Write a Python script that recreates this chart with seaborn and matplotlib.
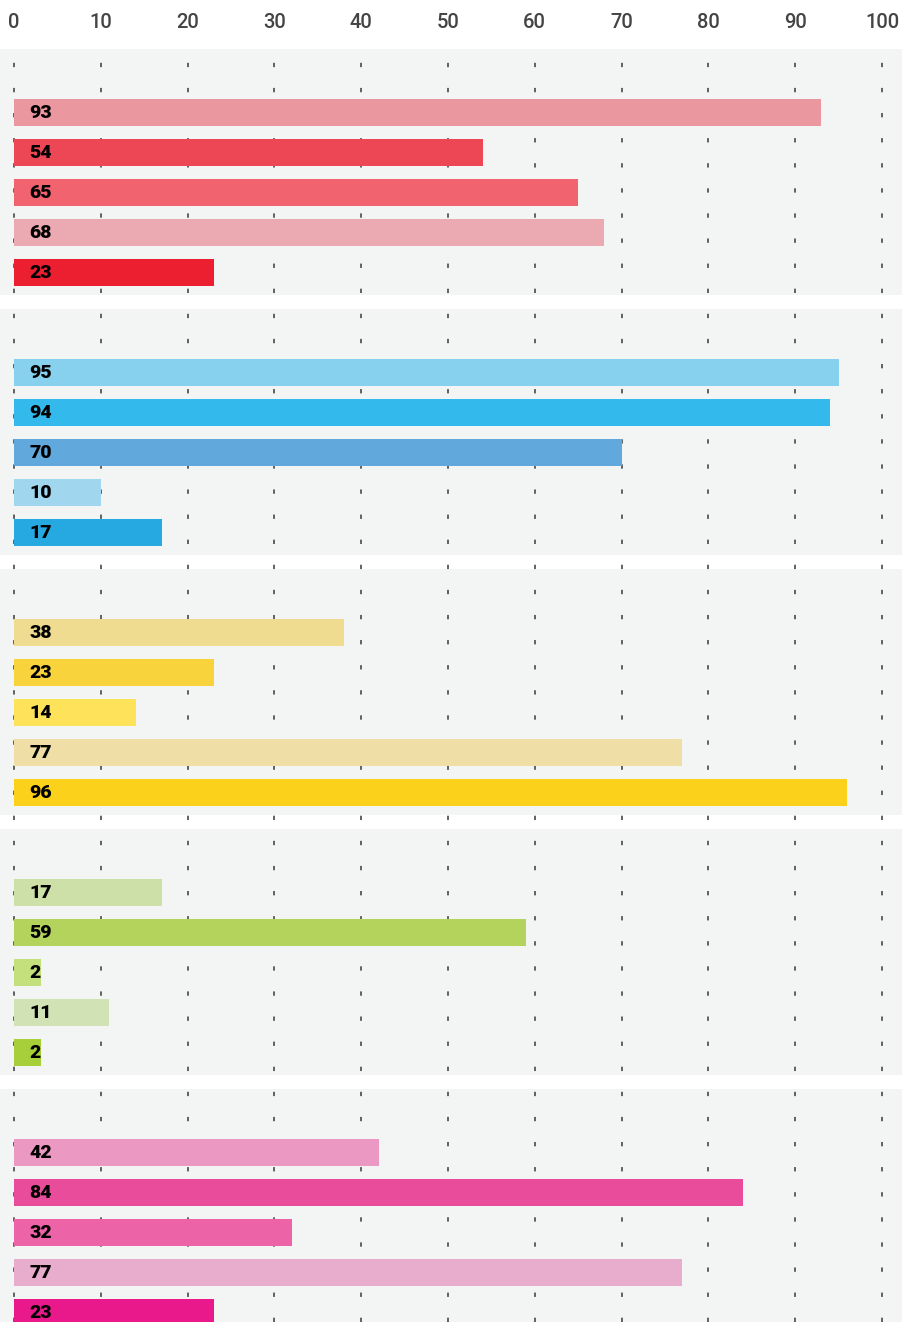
import numpy as np
import pandas as pd
import matplotlib
matplotlib.use("Agg")
import matplotlib.pyplot as plt
import seaborn as sns

# values, top to bottom, five groups of five
group_values = [
    [93, 54, 65, 68, 23],
    [95, 94, 70, 10, 17],
    [38, 23, 14, 77, 96],
    [17, 59, 2, 11, 2],
    [42, 84, 32, 77, 23],
]
group_colors = [
    ["#ea979f", "#ed4655", "#f26370", "#ebaab1", "#ec1f30"],
    ["#88d1ee", "#33b9ec", "#61a9dd", "#a0d6ee", "#26a9e1"],
    ["#efdc90", "#f9d33b", "#fde25a", "#efdfa6", "#fcd11b"],
    ["#cde0a7", "#b3d35c", "#c4e07c", "#d1e2b4", "#a6cf3a"],
    ["#eb98c2", "#e84c9b", "#ec64a7", "#e8accd", "#e9198c"],
]
x_ticks = [0, 10, 20, 30, 40, 50, 60, 70, 80, 90, 100]

GROUP_STEP = 6.5   # slots between first bars of neighbouring groups
MIN_BAR = 3.1      # tiny bars are drawn a bit wider so the label fits

rows = []
for g, vals in enumerate(group_values):
    for i, v in enumerate(vals):
        rows.append({"pos": g * GROUP_STEP + i, "value": v,
                     "shown": max(v, MIN_BAR),
                     "color": group_colors[g][i]})
df = pd.DataFrame(rows)

sns.set_theme(style="white")
plt.rcParams["font.family"] = ["Roboto", "DejaVu Sans"]

W, H = 902, 1322
fig = plt.figure(figsize=(W / 100, H / 100), dpi=100)
top_px = 49
ax = fig.add_axes([0, 0, 1, (H - top_px) / H])

# pixel mapping: x=0 at 14px, 8.68 px per unit; bar slot 40px, first centre at 112.5px
px_per_unit = 8.68

sns.barplot(data=df, x="shown", y="pos", orient="h", native_scale=True,
            width=0.675, color="#cccccc", ax=ax, zorder=2, linewidth=0)
bars = list(ax.patches)
for patch, c in zip(bars, df["color"]):
    patch.set_facecolor(c)
    patch.set_edgecolor("none")

# grey group bands
for g in range(len(group_values)):
    y0 = g * GROUP_STEP
    ax.axhspan(y0 - 1.59, y0 + 4.56, color="#f3f5f4", zorder=0, lw=0)

# dotted grid
for t in x_ticks:
    ax.axvline(t, color="#555555", lw=1.3, dashes=(2.4, 11.5), zorder=1)

ax.set_xlim(-14 / px_per_unit, (W - 14) / px_per_unit)
ax.set_ylim((H - 112.5) / 40, (top_px - 112.5) / 40)

for _, r in df.iterrows():
    ax.annotate(str(r["value"]), xy=(0, r["pos"]), xytext=(10.8, -0.5),
                textcoords="offset points", va="center", ha="left",
                fontsize=14, fontweight="black", color="#000000", zorder=3)

ax.xaxis.tick_top()
ax.set_xticks(x_ticks)
ax.set_xticklabels([str(t) for t in x_ticks], fontsize=14.5, color="#444444",
                   fontweight="medium")
ax.tick_params(axis="x", length=0, pad=12)
ax.set_yticks([])
ax.set_xlabel("")
ax.set_ylabel("")
for s in ax.spines.values():
    s.set_visible(False)
ax.set_facecolor("white")

fig.savefig("out.png", dpi=100, facecolor="white")
